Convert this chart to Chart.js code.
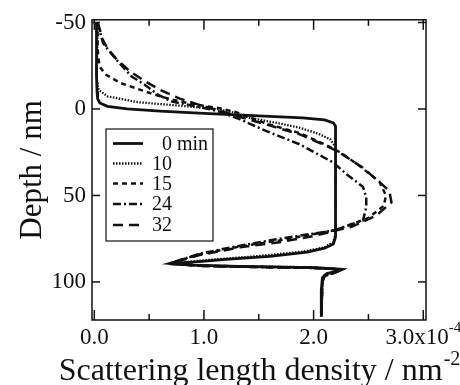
<!DOCTYPE html>
<html>
<head>
<meta charset="utf-8">
<script src="https://cdn.jsdelivr.net/npm/chart.js@4.4.1/dist/chart.umd.min.js"></script>
<style>
  html, body { margin: 0; padding: 0; background: #fff; }
  canvas { display: block; }
</style>
</head>
<body>
<canvas id="grafico" width="460" height="385"></canvas>
<script>
// series names (minutes)
const seriesNames = ['0', '10', '15', '24', '32'];
const timeUnit = 'min';

// depth (nm) and scattering length density (x1e-4 nm^-2)
const depth0 = [-50, -20, -10, -6, -3.5, -1.5, 0, 1.2, 2.6, 4, 5.2, 6.3, 8, 10, 40, 70, 74, 78, 80.5, 82.8, 85.2, 87, 88.5, 89.4, 90.3, 91.2, 91.7, 92.6, 93.8, 95.2, 97.5, 105, 120];
const sld0 = [0.02, 0.02, 0.025, 0.03, 0.05, 0.12, 0.3, 0.6, 1.0, 1.5, 1.9, 2.1, 2.18, 2.2, 2.2, 2.2, 2.2, 2.18, 2.1, 1.94, 1.6, 1.2, 0.9, 0.68, 0.9, 1.4, 2.0, 2.24, 2.22, 2.12, 2.08, 2.07, 2.07];

const depth10 = [-50, -30, -18, -11, -7.3, -3.9, -1.5, 0.2, 2.5, 5.2, 8.5, 10.9, 14.5, 17.5, 22, 40, 72, 77, 80, 82.5, 85, 87.5, 89.4, 90.4, 91, 91.5, 92.6, 94.3, 96, 100, 120];
const sld10 = [0.03, 0.025, 0.02, 0.04, 0.12, 0.4, 0.85, 1.13, 1.3, 1.42, 1.7, 1.875, 2.05, 2.15, 2.2, 2.2, 2.2, 2.18, 2.1, 1.9, 1.5, 1.0, 0.68, 0.9, 1.4, 2.0, 2.24, 2.2, 2.1, 2.08, 2.07];

const depth15 = [-50, -35, -28, -24.5, -20, -15, -11.5, -8.3, -5.5, -3.5, -1.8, -0.6, 2, 8.5, 14, 21, 25, 32, 42, 50, 56, 63, 70, 76, 79.5, 84, 89.4, 90.6, 91.2, 91.8, 92.8, 94.5, 96.5, 100, 120];
const sld15 = [0.03, 0.03, 0.04, 0.05, 0.1, 0.24, 0.4, 0.55, 0.7, 0.85, 1.0, 1.13, 1.3, 1.57, 1.875, 2.12, 2.24, 2.4, 2.6, 2.66, 2.64, 2.5, 2.2, 1.69, 1.33, 0.96, 0.68, 1.0, 1.5, 2.0, 2.26, 2.2, 2.1, 2.08, 2.07];

const depth24 = [-50, -45, -38, -32, -26.4, -18.8, -14, -8.3, -4.4, -2.5, -0.6, 1.3, 6, 12.8, 20.5, 31, 37.7, 45, 51, 57, 64.5, 70.3, 75, 79, 83.7, 89.4, 90.8, 91.4, 91.9, 92.8, 94.5, 96.5, 100, 120];
const sld24 = [0.03, 0.05, 0.08, 0.155, 0.23, 0.34, 0.46, 0.58, 0.7, 0.85, 1.0, 1.13, 1.33, 1.57, 1.875, 2.18, 2.3, 2.45, 2.48, 2.48, 2.45, 2.18, 1.69, 1.33, 0.96, 0.68, 1.0, 1.5, 2.0, 2.26, 2.2, 2.1, 2.08, 2.07];

const depth32 = [-50, -46, -41, -35, -29, -22, -16.5, -11, -6, -2.5, 0.8, 5, 9, 14.7, 21.4, 25.3, 34, 47.3, 54, 61.7, 68, 73.5, 77, 80, 84.5, 89.4, 90.8, 91.4, 91.9, 92.8, 94.5, 96.5, 100, 120];
const sld32 = [0.03, 0.05, 0.07, 0.12, 0.2, 0.32, 0.45, 0.6, 0.78, 0.95, 1.13, 1.35, 1.57, 1.875, 2.12, 2.24, 2.45, 2.69, 2.71, 2.57, 2.35, 2.0, 1.69, 1.33, 0.96, 0.68, 1.0, 1.5, 2.0, 2.26, 2.2, 2.1, 2.08, 2.07];

// axis ticks
const xMajorTicks = [0, 1, 2, 3];
const xMinorTicks = [0.5, 1.5, 2.5];
const xTickLabels = ['0.0', '1.0', '2.0', '3.0x10'];
const xTickExponent = '-4';
const yTicks = [-50, 0, 50, 100];

const xTitle = 'Scattering length density / nm';
const xTitleExponent = '-2';
const yTitle = 'Depth / nm';

const serif = '"Liberation Serif", "Times New Roman", serif';
const ink = '#111';

const dashes = [[], [1.5, 1.5], [5, 4], [8, 3, 2, 3], [10, 6]];
const widths = [2.8, 2.3, 2.5, 2.5, 2.5];

function zip(xs, ys) {
  return xs.map((v, i) => ({ x: v, y: ys[i] }));
}

const allSeries = [
  zip(sld0, depth0),
  zip(sld10, depth10),
  zip(sld15, depth15),
  zip(sld24, depth24),
  zip(sld32, depth32)
];

// box, inward ticks, x labels, x title and legend
const decoracao = {
  id: 'decoracao',
  afterDraw(chart) {
    const { ctx, chartArea: a, scales: { x, y } } = chart;
    ctx.save();
    ctx.strokeStyle = ink;
    ctx.fillStyle = ink;
    ctx.lineWidth = 1.5;
    ctx.setLineDash([]);
    ctx.strokeRect(a.left, a.top, a.right - a.left, a.bottom - a.top);

    function seg(x1, y1, x2, y2) {
      ctx.beginPath();
      ctx.moveTo(x1, y1);
      ctx.lineTo(x2, y2);
      ctx.stroke();
    }
    xMajorTicks.forEach(v => {
      const px = x.getPixelForValue(v);
      seg(px, a.bottom, px, a.bottom - 10);
      seg(px, a.top, px, a.top + 10);
    });
    xMinorTicks.forEach(v => {
      const px = x.getPixelForValue(v);
      seg(px, a.bottom, px, a.bottom - 6);
      seg(px, a.top, px, a.top + 6);
    });
    yTicks.forEach(v => {
      const py = y.getPixelForValue(v);
      seg(a.left, py, a.left + 8, py);
      seg(a.right, py, a.right - 8, py);
    });

    // x tick labels
    ctx.textBaseline = 'alphabetic';
    xTickLabels.forEach((t, i) => {
      const px = x.getPixelForValue(xMajorTicks[i]);
      ctx.font = '23px ' + serif;
      if (i === xTickLabels.length - 1) {
        const w1 = ctx.measureText(t).width;
        ctx.font = '15px ' + serif;
        const w2 = ctx.measureText(xTickExponent).width;
        const start = px - (w1 + w2) / 2;
        ctx.textAlign = 'left';
        ctx.font = '23px ' + serif;
        ctx.fillText(t, start, 344);
        ctx.font = '15px ' + serif;
        ctx.fillText(xTickExponent, start + w1, 332);
      } else {
        ctx.textAlign = 'center';
        ctx.fillText(t, px, 344);
      }
    });

    // x title with superscript
    ctx.font = '32px ' + serif;
    const tw = ctx.measureText(xTitle).width;
    ctx.font = '20px ' + serif;
    const ew = ctx.measureText(xTitleExponent).width;
    const cx = (a.left + a.right) / 2;
    const tx = cx - (tw + ew) / 2;
    ctx.textAlign = 'left';
    ctx.font = '32px ' + serif;
    ctx.fillText(xTitle, tx, 380);
    ctx.font = '20px ' + serif;
    ctx.fillText(xTitleExponent, tx + tw + 1, 365);

    // legend
    const lx = 106, ly = 129, lw = 107, lh = 112;
    ctx.fillStyle = '#fff';
    ctx.fillRect(lx, ly, lw, lh);
    ctx.fillStyle = ink;
    ctx.lineWidth = 1.2;
    ctx.strokeRect(lx, ly, lw, lh);
    const rows = [143.5, 163.5, 183.5, 204, 225];
    ctx.font = '20px ' + serif;
    ctx.textBaseline = 'middle';
    seriesNames.forEach((name, i) => {
      const ry = rows[i];
      ctx.lineWidth = widths[i];
      ctx.setLineDash(dashes[i]);
      seg(113, ry, 143, ry);
      ctx.setLineDash([]);
      ctx.textAlign = 'right';
      ctx.fillText(name, 172, ry + 1);
      if (i === 0) {
        ctx.textAlign = 'left';
        ctx.fillText(' ' + timeUnit, 172, ry + 1);
      }
    });
    ctx.restore();
  }
};

const chart = new Chart(document.getElementById('grafico').getContext('2d'), {
  type: 'scatter',
  data: {
    datasets: allSeries.map((pts, i) => ({
      label: seriesNames[i] + (i === 0 ? ' ' + timeUnit : ''),
      data: pts,
      showLine: true,
      borderColor: ink,
      borderWidth: widths[i],
      borderDash: dashes[i],
      pointRadius: 0,
      fill: false,
      tension: 0
    }))
  },
  options: {
    responsive: false,
    animation: false,
    layout: { padding: { top: 18, right: 34, left: 0, bottom: 0 } },
    plugins: {
      legend: { display: false },
      tooltip: { enabled: false }
    },
    scales: {
      x: {
        type: 'linear',
        position: 'bottom',
        min: -0.021,
        max: 3.025,
        grid: { display: false, drawTicks: false },
        border: { display: false },
        ticks: { display: false },
        afterFit: s => { s.height = 65; }
      },
      y: {
        type: 'linear',
        position: 'left',
        reverse: true,
        min: -51.55,
        max: 122,
        grid: { display: false, drawTicks: false },
        border: { display: false },
        afterBuildTicks: s => { s.ticks = yTicks.map(v => ({ value: v })); },
        ticks: {
          color: ink,
          padding: 6,
          font: { family: serif, size: 23 },
          callback: v => String(v)
        },
        title: {
          display: true,
          text: yTitle,
          color: ink,
          font: { family: serif, size: 31 },
          padding: { top: 14, bottom: 0 }
        },
        afterFit: s => { s.width = 92; }
      }
    }
  },
  plugins: [decoracao]
});
</script>
</body>
</html>
